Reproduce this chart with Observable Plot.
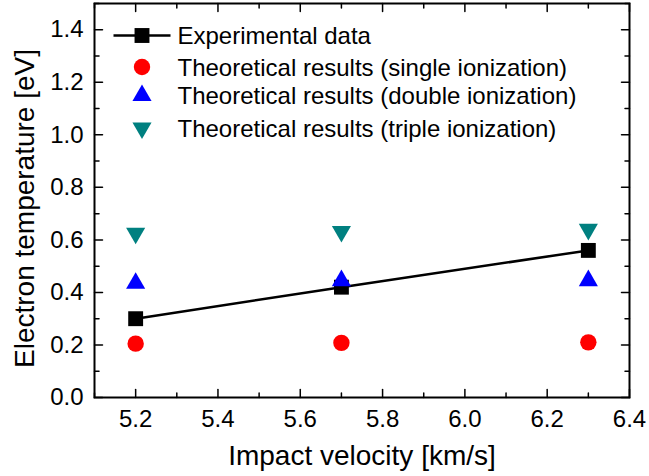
<!DOCTYPE html>
<html>
<head>
<meta charset="utf-8">
<script src="https://cdn.jsdelivr.net/npm/d3@7"></script>
<script src="https://cdn.jsdelivr.net/npm/@observablehq/plot@0.6"></script>
<style>
  html, body { margin: 0; padding: 0; background: #fff; }
  #chart svg { display: block; }
</style>
</head>
<body>
<div id="chart"></div>
<script>
// ---- data ----
const velocity = [5.2, 5.7, 6.3];
const experimental = [0.30, 0.42, 0.56];
const singleIon = [0.205, 0.208, 0.21];
const doubleIon = [0.435, 0.445, 0.445];
const tripleIon = [0.625, 0.632, 0.64];

const xMajorTicks = [5.2, 5.4, 5.6, 5.8, 6.0, 6.2, 6.4];
const xMinorTicks = [5.1, 5.3, 5.5, 5.7, 5.9, 6.1, 6.3];
const yMajorTicks = [0.0, 0.2, 0.4, 0.6, 0.8, 1.0, 1.2, 1.4];
const yMinorTicks = [0.1, 0.3, 0.5, 0.7, 0.9, 1.1, 1.3, 1.5];

const seriesNames = [
  "Experimental data",
  "Theoretical results (single ionization)",
  "Theoretical results (double ionization)",
  "Theoretical results (triple ionization)"
];
const xLabel = "Impact velocity [km/s]";
const yLabel = "Electron temperature [eV]";

// ---- helpers ----
const FONT = "'Liberation Sans', Arial, Helvetica, sans-serif";
const tickShape = {draw(context, l) { context.moveTo(0, 0); context.lineTo(0, -l); }};
const triangleDown = {
  draw(context, size) {
    const y = -Math.sqrt(size / (Math.sqrt(3) * 3));
    context.moveTo(0, -2 * y);
    context.lineTo(-Math.sqrt(3) * y, y);
    context.lineTo(Math.sqrt(3) * y, y);
    context.closePath();
  }
};
// horizontal line symbol for the legend key (half-length in px)
const legendLineHalf = 28.5;
const legendLine = {
  draw(context) { context.moveTo(-legendLineHalf, 0); context.lineTo(legendLineHalf, 0); }
};
const rows = (ys) => velocity.map((v, i) => ({x: v, y: ys[i]}));

function ticks(values, axis, len) {
  // inward ticks on all four sides of the frame
  const s = {anchor: "start", length: len, shape: tickShape, stroke: "black", strokeWidth: 1.5};
  if (axis === "x") {
    return [
      Plot.vector(values, {x: d => d, frameAnchor: "bottom", rotate: 0, ...s}),
      Plot.vector(values, {x: d => d, frameAnchor: "top", rotate: 180, ...s})
    ];
  }
  return [
    Plot.vector(values, {y: d => d, frameAnchor: "left", rotate: 90, ...s}),
    Plot.vector(values, {y: d => d, frameAnchor: "right", rotate: -90, ...s})
  ];
}

// legend layout (offsets from the frame's top-left corner)
const legendRowDy = [32, 63.5, 92, 124.5];
const legendMarkDx = 47.5;
const legendTextDx = 83;

const chart = Plot.plot({
  width: 649,
  height: 476,
  marginLeft: 94,
  marginRight: 20,
  marginTop: 3,
  marginBottom: 79,
  style: {fontFamily: FONT, background: "white", color: "black"},
  x: {domain: [5.1, 6.4]},
  y: {domain: [0, 1.5]},
  marks: [
    // tick labels
    Plot.axisX(xMajorTicks, {tickSize: 0, tickPadding: 12, tickFormat: d3.format(".1f"), fontSize: 24, label: null}),
    Plot.axisY(yMajorTicks, {tickSize: 0, tickPadding: 11, tickFormat: d3.format(".1f"), fontSize: 24, label: null}),
    // inward ticks
    ...ticks(xMajorTicks, "x", 8),
    ...ticks(xMinorTicks, "x", 4.5),
    ...ticks(yMajorTicks, "y", 8),
    ...ticks(yMinorTicks, "y", 4.5),
    Plot.frame({stroke: "black", strokeWidth: 2}),
    // axis titles
    Plot.text([xLabel], {frameAnchor: "bottom", dy: 59, fontSize: 28, textAnchor: "middle", lineAnchor: "middle", text: d => d}),
    Plot.text([yLabel], {frameAnchor: "left", dx: -69, dy: 8, rotate: -90, fontSize: 28, textAnchor: "middle", lineAnchor: "middle", text: d => d}),
    // data
    Plot.line(rows(experimental), {x: "x", y: "y", stroke: "black", strokeWidth: 2.5}),
    Plot.dot(rows(experimental), {x: "x", y: "y", symbol: "square", r: 8.4, fill: "black"}),
    Plot.dot(rows(singleIon), {x: "x", y: "y", symbol: "circle", r: 8.2, fill: "#ff0000"}),
    Plot.dot(rows(doubleIon), {x: "x", y: "y", symbol: "triangle", r: 7.1, fill: "#0000ff"}),
    Plot.dot(rows(tripleIon), {x: "x", y: "y", symbol: triangleDown, r: 7.1, fill: "#008080"}),
    // legend
    Plot.dot([0], {frameAnchor: "top-left", dx: legendMarkDx, dy: legendRowDy[0], symbol: legendLine, r: 8, fill: "none", stroke: "black", strokeWidth: 2.5}),
    Plot.dot([0], {frameAnchor: "top-left", dx: legendMarkDx, dy: legendRowDy[0], symbol: "square", r: 8.4, fill: "black"}),
    Plot.dot([0], {frameAnchor: "top-left", dx: legendMarkDx, dy: legendRowDy[1], symbol: "circle", r: 8.2, fill: "#ff0000"}),
    Plot.dot([0], {frameAnchor: "top-left", dx: legendMarkDx, dy: legendRowDy[2], symbol: "triangle", r: 7.1, fill: "#0000ff"}),
    Plot.dot([0], {frameAnchor: "top-left", dx: legendMarkDx, dy: legendRowDy[3], symbol: triangleDown, r: 7.1, fill: "#008080"}),
    ...seriesNames.map((name, i) =>
      Plot.text([name], {frameAnchor: "top-left", dx: legendTextDx, dy: legendRowDy[i] + 1, textAnchor: "start", lineAnchor: "middle", fontSize: 24, text: d => d}))
  ]
});
document.getElementById("chart").appendChild(chart);
</script>
</body>
</html>
